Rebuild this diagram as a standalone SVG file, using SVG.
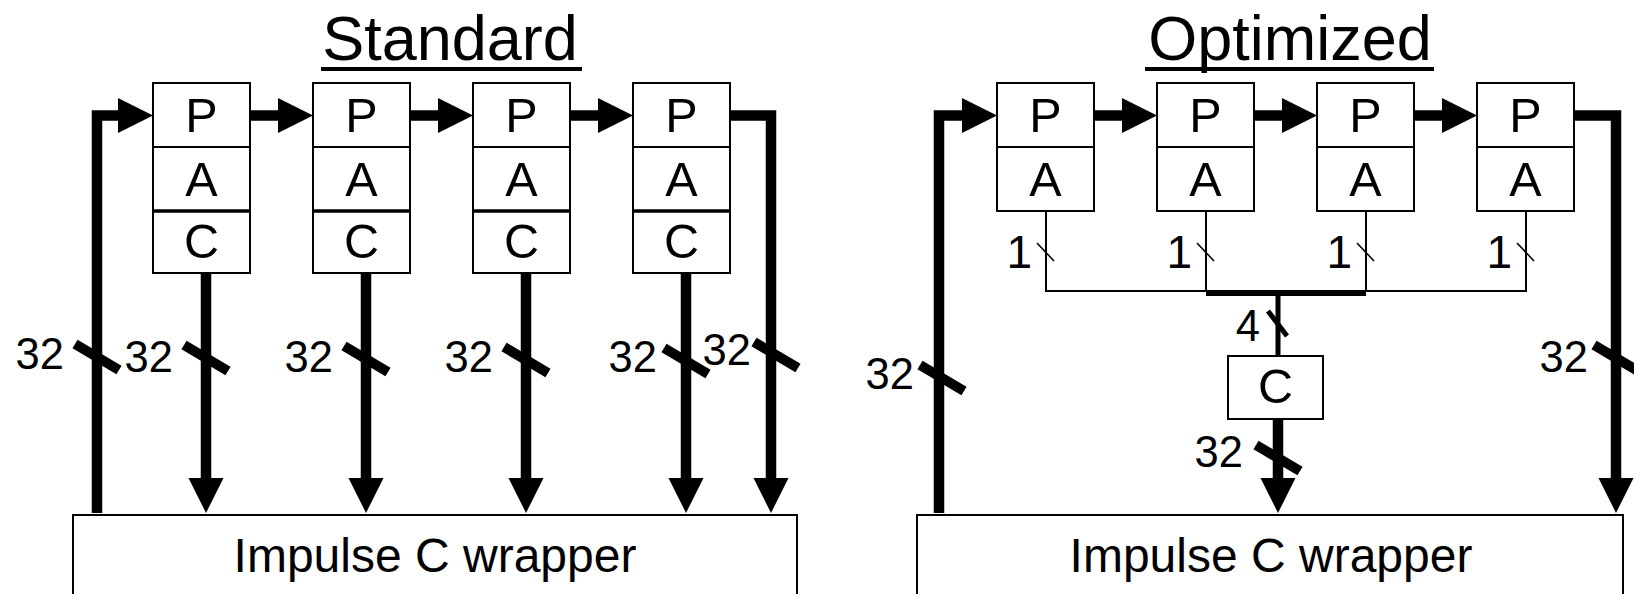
<svg xmlns="http://www.w3.org/2000/svg" width="1634" height="594" viewBox="0 0 1634 594">
  <style>
    text { font-family: "Liberation Sans", Arial, Helvetica, sans-serif; fill: #000; }
    .box { fill: #fff; stroke: #000; stroke-width: 2; }
    .sep { stroke: #000; stroke-width: 2; }
    .sep-c { stroke: #000; stroke-width: 3.5; }
    .cell { font-size: 48.5px; text-anchor: middle; }
    .title { font-size: 63px; text-anchor: middle; }
    .wrap { font-size: 48px; text-anchor: middle; }
    .bus { fill: none; stroke: #000; stroke-width: 10.5; stroke-linejoin: miter; }
    .bus-mid { fill: none; stroke: #000; stroke-width: 5; }
    .thin { fill: none; stroke: #000; stroke-width: 2; }
    .slash { stroke: #000; stroke-width: 10; }
    .slash-mid { stroke: #000; stroke-width: 5; }
    .slash-thin { stroke: #000; stroke-width: 1.6; }
    .width { font-size: 43.5px; text-anchor: end; }
    .width1 { font-size: 46px; text-anchor: end; }
  </style>
  <defs>
    <marker id="ah" markerUnits="userSpaceOnUse" markerWidth="36" markerHeight="36" refX="1" refY="17.5" orient="auto">
      <path d="M0,0 L35,17.5 L0,35 Z" fill="#000"/>
    </marker>
  </defs>

  <!-- ===== Standard ===== -->
  <g id="std-title">
    <text class="title" x="450" y="60">Standard</text>
    <rect x="321" y="67" width="261" height="4" fill="#000"/>
  </g>

  <g id="std-pe1">
    <rect class="box" x="153" y="83" width="97" height="190"/>
    <line class="sep" x1="153" y1="147" x2="250" y2="147"/>
    <line class="sep-c" x1="153" y1="211" x2="250" y2="211"/>
    <text class="cell" x="201.5" y="132">P</text>
    <text class="cell" x="201.5" y="196">A</text>
    <text class="cell" x="201.5" y="258">C</text>
  </g>
  <g id="std-pe2">
    <rect class="box" x="313" y="83" width="97" height="190"/>
    <line class="sep" x1="313" y1="147" x2="410" y2="147"/>
    <line class="sep-c" x1="313" y1="211" x2="410" y2="211"/>
    <text class="cell" x="361.5" y="132">P</text>
    <text class="cell" x="361.5" y="196">A</text>
    <text class="cell" x="361.5" y="258">C</text>
  </g>
  <g id="std-pe3">
    <rect class="box" x="473" y="83" width="97" height="190"/>
    <line class="sep" x1="473" y1="147" x2="570" y2="147"/>
    <line class="sep-c" x1="473" y1="211" x2="570" y2="211"/>
    <text class="cell" x="521.5" y="132">P</text>
    <text class="cell" x="521.5" y="196">A</text>
    <text class="cell" x="521.5" y="258">C</text>
  </g>
  <g id="std-pe4">
    <rect class="box" x="633" y="83" width="97" height="190"/>
    <line class="sep" x1="633" y1="147" x2="730" y2="147"/>
    <line class="sep-c" x1="633" y1="211" x2="730" y2="211"/>
    <text class="cell" x="681.5" y="132">P</text>
    <text class="cell" x="681.5" y="196">A</text>
    <text class="cell" x="681.5" y="258">C</text>
  </g>
  <g id="std-wrapper">
    <rect class="box" x="73" y="515" width="724" height="100"/>
    <text class="wrap" x="435" y="572">Impulse C wrapper</text>
  </g>

  <g id="std-connectors">
    <!-- feedback into the first P stage -->
    <path class="bus" d="M97,513 V115.5 H119" marker-end="url(#ah)"/>
    <!-- P chain -->
    <path class="bus" d="M251,115.5 H279" marker-end="url(#ah)"/>
    <path class="bus" d="M411,115.5 H439" marker-end="url(#ah)"/>
    <path class="bus" d="M571,115.5 H599" marker-end="url(#ah)"/>
    <!-- last P back to the wrapper -->
    <path class="bus" d="M731,115.5 H771 V479" marker-end="url(#ah)"/>
    <!-- C outputs -->
    <path class="bus" d="M206,274 V479" marker-end="url(#ah)"/>
    <path class="bus" d="M366,274 V479" marker-end="url(#ah)"/>
    <path class="bus" d="M526,274 V479" marker-end="url(#ah)"/>
    <path class="bus" d="M686,274 V479" marker-end="url(#ah)"/>
    <!-- bus width marks -->
    <line class="slash" x1="75" y1="344" x2="119" y2="370"/>
    <line class="slash" x1="184" y1="345" x2="228" y2="371"/>
    <line class="slash" x1="344" y1="346" x2="388" y2="372"/>
    <line class="slash" x1="504" y1="347" x2="548" y2="373"/>
    <line class="slash" x1="664" y1="348" x2="708" y2="374"/>
    <line class="slash" x1="754" y1="342" x2="798" y2="368"/>
    <text class="width" x="64" y="369">32</text>
    <text class="width" x="173" y="372">32</text>
    <text class="width" x="333" y="372">32</text>
    <text class="width" x="493" y="372">32</text>
    <text class="width" x="657" y="372">32</text>
    <text class="width" x="751" y="365">32</text>
  </g>

  <!-- ===== Optimized ===== -->
  <g id="opt-title">
    <text class="title" x="1290" y="60">Optimized</text>
    <rect x="1145" y="67" width="289" height="4" fill="#000"/>
  </g>

  <g id="opt-pe1">
    <rect class="box" x="997" y="83" width="97" height="128"/>
    <line class="sep" x1="997" y1="147" x2="1094" y2="147"/>
    <text class="cell" x="1045.5" y="132">P</text>
    <text class="cell" x="1045.5" y="196">A</text>
  </g>
  <g id="opt-pe2">
    <rect class="box" x="1157" y="83" width="97" height="128"/>
    <line class="sep" x1="1157" y1="147" x2="1254" y2="147"/>
    <text class="cell" x="1205.5" y="132">P</text>
    <text class="cell" x="1205.5" y="196">A</text>
  </g>
  <g id="opt-pe3">
    <rect class="box" x="1317" y="83" width="97" height="128"/>
    <line class="sep" x1="1317" y1="147" x2="1414" y2="147"/>
    <text class="cell" x="1365.5" y="132">P</text>
    <text class="cell" x="1365.5" y="196">A</text>
  </g>
  <g id="opt-pe4">
    <rect class="box" x="1477" y="83" width="97" height="128"/>
    <line class="sep" x1="1477" y1="147" x2="1574" y2="147"/>
    <text class="cell" x="1525.5" y="132">P</text>
    <text class="cell" x="1525.5" y="196">A</text>
  </g>
  <g id="opt-c">
    <rect class="box" x="1228" y="356" width="95" height="63"/>
    <text class="cell" x="1275.5" y="403">C</text>
  </g>
  <g id="opt-wrapper">
    <rect class="box" x="917" y="515" width="706" height="100"/>
    <text class="wrap" x="1271" y="572">Impulse C wrapper</text>
  </g>

  <g id="opt-connectors">
    <!-- feedback into the first P stage -->
    <path class="bus" d="M939,513 V115.5 H963" marker-end="url(#ah)"/>
    <!-- P chain -->
    <path class="bus" d="M1095,115.5 H1123" marker-end="url(#ah)"/>
    <path class="bus" d="M1255,115.5 H1283" marker-end="url(#ah)"/>
    <path class="bus" d="M1415,115.5 H1443" marker-end="url(#ah)"/>
    <!-- last P back to the wrapper -->
    <path class="bus" d="M1575,115.5 H1616 V479" marker-end="url(#ah)"/>
    <!-- single-bit A outputs merged into one 4-bit bus -->
    <path class="thin" d="M1046,211 V291 H1526 V211"/>
    <path class="thin" d="M1206,211 V291"/>
    <path class="thin" d="M1366,211 V291"/>
    <path class="bus-mid" d="M1206,293.5 H1366"/>
    <path class="bus-mid" d="M1278,293 V356"/>
    <!-- shared C output -->
    <path class="bus" d="M1278,419 V479" marker-end="url(#ah)"/>
    <!-- bus width marks -->
    <line class="slash-thin" x1="1037" y1="243" x2="1054" y2="261"/>
    <line class="slash-thin" x1="1197" y1="243" x2="1214" y2="261"/>
    <line class="slash-thin" x1="1357" y1="243" x2="1374" y2="261"/>
    <line class="slash-thin" x1="1517" y1="243" x2="1534" y2="261"/>
    <text class="width1" x="1032" y="268">1</text>
    <text class="width1" x="1192" y="268">1</text>
    <text class="width1" x="1352" y="268">1</text>
    <text class="width1" x="1512" y="268">1</text>
    <line class="slash-mid" x1="1268" y1="311" x2="1287" y2="336"/>
    <text class="width" x="1260" y="341">4</text>
    <line class="slash" x1="920" y1="365" x2="964" y2="391"/>
    <text class="width" x="914" y="389">32</text>
    <line class="slash" x1="1256" y1="445" x2="1300" y2="471"/>
    <text class="width" x="1243" y="467">32</text>
    <line class="slash" x1="1594" y1="345" x2="1638" y2="371"/>
    <text class="width" x="1588" y="372">32</text>
  </g>
</svg>
